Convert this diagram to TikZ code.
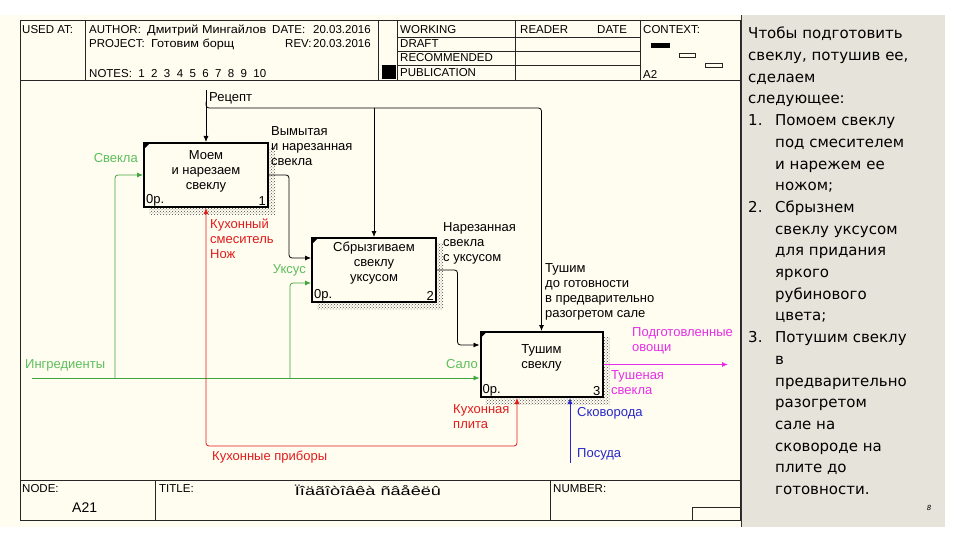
\documentclass[tikz,border=0pt]{standalone}
\usepackage{fontspec}
\setmainfont{Liberation Sans}
\newfontfamily\panelfont{DejaVu Sans}
\usetikzlibrary{arrows.meta,calc,patterns,backgrounds}
\definecolor{cream}{HTML}{FFFCF0}
\definecolor{panelbg}{HTML}{E6E3DA}
\definecolor{gline}{HTML}{3FA63F}
\definecolor{gtext}{HTML}{5CBF5C}
\definecolor{rline}{HTML}{E01C1C}
\definecolor{bline}{HTML}{2828C8}
\definecolor{mline}{HTML}{E62EE6}
\begin{document}
\begin{tikzpicture}[x=1pt,y=-1pt,
  every node/.style={inner sep=0pt},
  box/.style={draw, line width=2pt, fill=cream, minimum width=124pt, minimum height=64pt},
  btext/.style={align=center, font=\fontsize{13}{15}\selectfont},
  lbl/.style={align=left, font=\fontsize{13}{15}\selectfont},
  hdr/.style={anchor=west, font=\fontsize{11.5}{13}\selectfont},
  tip/.style={-{Latex[length=6pt,width=5pt]}},
  arr/.style={line width=0.8pt, rounded corners=3pt, tip},
  garr/.style={arr, draw=gline},
  rarr/.style={line width=0.8pt, rounded corners=3pt, draw=rline, {Latex[length=6pt,width=5pt]}-{Latex[length=6pt,width=5pt]}},
  barr/.style={arr, draw=bline},
  marr/.style={arr, draw=mline, line width=1pt},
  frame/.style={line width=0.8pt, draw=black!85}
]
\useasboundingbox (0,0) rectangle (960,540);

% ---------- boxes ----------
\node[box] (b1) at (206,175) {};
\node[box] (b2) at (374,270) {};
\node[box, minimum width=122pt, minimum height=65pt] (b3) at (541.5,364.5) {};

\node[btext, anchor=north] (t1) at ($(b1.north)+(0,8)$) {Моем\\и нарезаем\\свеклу};
\node[btext, anchor=north] (t2) at ($(b2.north)+(0,5)$) {Сбрызгиваем\\свеклу\\уксусом};
\node[btext, anchor=north] (t3) at ($(b3.north)+(0,13)$) {Тушим\\свеклу};

\foreach \b/\n in {b1/1, b2/2, b3/3} {
  \node[lbl, anchor=south west] (\b o) at ($(\b.south west)+(3,-2)$) {0р.};
  \node[lbl, anchor=south east] (\b n) at ($(\b.south east)+(-3,-2)$) {\n};
  \fill ($(\b.north west)+(1,1)$) -- ++(6,0) -- ++(-6,6) -- cycle;
}

% ---------- background, shadows ----------
\begin{scope}[on background layer]
  \fill[cream] (0,15) rectangle (741,527);
  \fill[panelbg] (741,15) rectangle (945,527);
  \foreach \b in {b1,b2,b3} {
    \fill[pattern=crosshatch dots, pattern color=black!70]
      ($(\b.north west)+(6,6)$) rectangle ($(\b.south east)+(6,6)$);
  }
\end{scope}
\draw[line width=1pt, black!80] (741,15) -- (741,527);

% ---------- frame ----------
\draw[frame] (20,20) rectangle (740,520);
\draw[frame] (20,80) -- (740,80);
\foreach \x in {85,378,397,515,640} \draw[frame] (\x,20) -- (\x,80);
\foreach \y in {37,51,65} \draw[frame] (397,\y) -- (640,\y);
\fill (382,65) rectangle (396,79);
\fill (651,43) rectangle (670,48);
\draw[frame] (679,53) rectangle (695,57);
\draw[frame] (705,63) rectangle (722,67);
\draw[frame] (20,480) -- (740,480);
\draw[frame] (155,480) -- (155,520);
\draw[frame] (550,480) -- (550,520);
\draw[frame] (692,507) rectangle (740,520);

% ---------- header texts ----------
\node[hdr] (h1) at (22,30) {USED AT:};
\node[hdr] (h2) at (89,30) {AUTHOR:};
\node[hdr] (h3) at (147,30) {\scalebox{1.1}[1]{Дмитрий Мингайлов}};
\node[hdr] (h4) at (272,30) {DATE:};
\node[hdr] (h5) at (313,30) {20.03.2016};
\node[hdr] (h6) at (89,44) {PROJECT:};
\node[hdr] (h7) at (151,44) {\scalebox{1.1}[1]{Готовим борщ}};
\node[hdr] (h8) at (285,44) {REV:};
\node[hdr] (h9) at (313,44) {20.03.2016};
\node[hdr] (h10) at (89,74) {NOTES:\ \ 1\ \ 2\ \ 3\ \ 4\ \ 5\ \ 6\ \ 7\ \ 8\ \ 9\ \ 10};
\node[hdr] (h11) at (400,30) {WORKING};
\node[hdr] (h12) at (400,44) {DRAFT};
\node[hdr] (h13) at (400,58) {RECOMMENDED};
\node[hdr] (h14) at (400,73) {PUBLICATION};
\node[hdr] (h15) at (520,30) {READER};
\node[hdr] (h16) at (597,30) {DATE};
\node[hdr] (h17) at (643,30) {CONTEXT:};
\node[hdr] (h18) at (643,74) {A2};

% ---------- footer texts ----------
\node[hdr] (f1) at (22,489) {NODE:};
\node[hdr, font=\fontsize{14}{16}\selectfont] (f2) at (72,508) {A21};
\node[hdr] (f3) at (159,489) {TITLE:};
\node[font=\fontsize{12.5}{14}\selectfont] (f4) at (368,490) {\scalebox{1.45}[1]{Ïîäãîòîâêà ñâåêëû}};
\node[hdr] (f5) at (553,489) {NUMBER:};

% ---------- connectors ----------
\coordinate (rc) at (206,90);
\coordinate (rj) at (206,108);
\draw[arr] (rc) -- (b1.north);
\draw[arr] ($(rj)+(0,-6)$) -- (rj) -| (b3.north);
\draw[arr] (b2.north |- rj) -- (b2.north);

\coordinate (ing) at (32,378);
\coordinate (g1) at (115,378);
\coordinate (g2) at (290,378);
\draw[garr] (ing) -- (b3.west |- ing);
\draw[garr] (g1) |- (b1.west);
\draw[garr] (g2) |- ($(b2.west)+(0,13)$);

\draw[arr] (b1.east) -| ($(b2.west)+(-22,-12)$) -- ($(b2.west)+(0,-12)$);
\draw[arr] (b2.east) -| ($(b3.west)+(-22,-19.5)$) -- ($(b3.west)+(0,-19.5)$);

\coordinate (out) at (728,364.5);
\draw[marr] (b3.east) -- (out);

\coordinate (kp) at (517,446);
\draw[rarr] (b1.south) |- (kp) -- (b3.south -| kp);

\coordinate (ps) at (570,463);
\draw[barr] (ps) -- (b3.south -| ps);

% ---------- labels ----------
\node[lbl, anchor=west] (l1) at (209,98) {Рецепт};
\node[lbl, anchor=north west] (l2) at (271,126) {Вымытая\\и нарезанная\\свекла};
\node[lbl, anchor=east, text=gtext] (l3) at (138,158) {Свекла};
\node[lbl, anchor=north west, text=rline] (l4) at (210,219) {Кухонный\\смеситель\\Нож};
\node[lbl, anchor=east, text=gtext] (l5) at (306,270) {Уксус};
\node[lbl, anchor=north west] (l6) at (443,222) {Нарезанная\\свекла\\с уксусом};
\node[lbl, anchor=north west] (l7) at (545,263) {Тушим\\до готовности\\в предварительно\\разогретом сале};
\node[lbl, anchor=west, text=gtext] (l8) at (25,365) {Ингредиенты};
\node[lbl, anchor=east, text=gtext] (l9) at (478,364) {Сало};
\node[lbl, anchor=north west, text=mline] (l10) at (632,327) {Подготовленные\\овощи};
\node[lbl, anchor=north west, text=mline] (l11) at (611,370) {Тушеная\\свекла};
\node[lbl, anchor=north west, text=rline] (l12) at (453,404) {Кухонная\\плита};
\node[lbl, anchor=west, text=bline] (l13) at (577,413) {Сковорода};
\node[lbl, anchor=west, text=bline] (l14) at (577,454) {Посуда};
\node[lbl, anchor=west, text=rline] (l15) at (212,457) {Кухонные приборы};

% ---------- side panel ----------
\node[anchor=north west, align=left, font=\panelfont\fontsize{15}{21.7}\selectfont] (pt) at (748,27) {%
Чтобы подготовить\\
свеклу, потушив ее,\\
сделаем\\
следующее:\\
\makebox[27pt][l]{1.}Помоем свеклу\\
\hspace*{27pt}под смесителем\\
\hspace*{27pt}и нарежем ее\\
\hspace*{27pt}ножом;\\
\makebox[27pt][l]{2.}Сбрызнем\\
\hspace*{27pt}свеклу уксусом\\
\hspace*{27pt}для придания\\
\hspace*{27pt}яркого\\
\hspace*{27pt}рубинового\\
\hspace*{27pt}цвета;\\
\makebox[27pt][l]{3.}Потушим свеклу\\
\hspace*{27pt}в\\
\hspace*{27pt}предварительно\\
\hspace*{27pt}разогретом\\
\hspace*{27pt}сале на\\
\hspace*{27pt}сковороде на\\
\hspace*{27pt}плите до\\
\hspace*{27pt}готовности.};
\node[font=\panelfont\itshape\fontsize{7}{8}\selectfont] (pg) at (929,508) {8};
\end{tikzpicture}
\end{document}
